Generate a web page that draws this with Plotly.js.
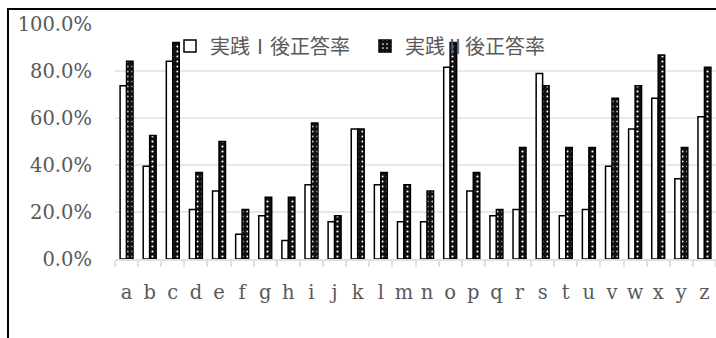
<!DOCTYPE html>
<html>
<head>
<meta charset="utf-8">
<script src="https://cdn.plot.ly/plotly-3.0.1.min.js"></script>
<style>
html,body{margin:0;padding:0;background:#fff;overflow:hidden;}
#wrap{position:relative;width:716px;height:338px;overflow:hidden;}
#chart{width:716px;height:338px;}
#frame{position:absolute;left:7px;top:8px;width:800px;height:400px;border-top:2px solid #000;border-left:2px solid #000;pointer-events:none;box-sizing:border-box;z-index:10;}
</style>
</head>
<body>
<div id="wrap">
<div id="chart"></div>
<div id="frame"></div>
</div>
<script>
var categories = ['a','b','c','d','e','f','g','h','i','j','k','l','m','n','o','p','q','r','s','t','u','v','w','x','y','z'];
var seriesNames = ['実践Ⅰ後正答率','実践Ⅱ後正答率'];
var practice1 = [0.737,0.395,0.842,0.211,0.289,0.105,0.184,0.079,0.316,0.158,0.553,0.316,0.158,0.158,0.816,0.289,0.184,0.211,0.789,0.184,0.211,0.395,0.553,0.684,0.342,0.605];
var practice2 = [0.842,0.526,0.921,0.368,0.500,0.211,0.263,0.263,0.579,0.184,0.553,0.368,0.316,0.289,0.921,0.368,0.211,0.474,0.737,0.474,0.474,0.684,0.737,0.868,0.474,0.816];
var yTicks = [0,0.2,0.4,0.6,0.8,1.0];

var W = 716, H = 338;
var L = 115, T = 24, B = 79, R = 0;
var plotW = W - L - R, plotH = H - T - B;

var traces = [
  {
    type: 'bar', name: seriesNames[0], x: categories, y: practice1,
    marker: {color: '#ffffff', line: {color: '#000000', width: 1.5}},
    hoverinfo: 'skip'
  },
  {
    type: 'bar', name: seriesNames[1], x: categories, y: practice2,
    marker: {color: '#111111', line: {color: '#000000', width: 1.5},
      pattern: {shape: '.', fgcolor: '#ffffff', bgcolor: '#111111', size: 5, solidity: 0.15}},
    hoverinfo: 'skip'
  }
];

var layout = {
  width: W, height: H,
  margin: {l: L, r: R, t: T, b: B, pad: 0},
  paper_bgcolor: '#ffffff', plot_bgcolor: '#ffffff',
  font: {family: 'DejaVu Serif, serif', size: 19.5, color: '#595959'},
  barmode: 'group', bargap: 0.44, bargroupgap: 0,
  showlegend: true,
  legend: {
    orientation: 'h', x: (170 - L) / plotW, xanchor: 'left', y: (259 - 46) / plotH, yanchor: 'middle',
    bgcolor: 'rgba(0,0,0,0)', borderwidth: 0,
    font: {family: 'Noto Sans CJK JP', size: 20, color: '#595959'},
    entrywidth: 150, entrywidthmode: 'pixels', traceorder: 'normal'
  },
  xaxis: {
    type: 'category', tickson: 'boundaries', ticks: 'outside', ticklen: 6, tickwidth: 2, tickcolor: '#e0e0e0',
    showline: true, linecolor: '#e0e0e0', linewidth: 2, showgrid: false, zeroline: false,
    tickangle: 0, ticklabelstandoff: 15, fixedrange: true
  },
  yaxis: {
    range: [0, 1], tickvals: yTicks, tickformat: '.1%', showgrid: true, gridcolor: '#e8e8e8', gridwidth: 2,
    zeroline: false, showline: false, ticks: '', ticklabelstandoff: 22, fixedrange: true
  }
};

Plotly.newPlot('chart', traces, layout, {displayModeBar: false, staticPlot: true});
</script>
</body>
</html>
